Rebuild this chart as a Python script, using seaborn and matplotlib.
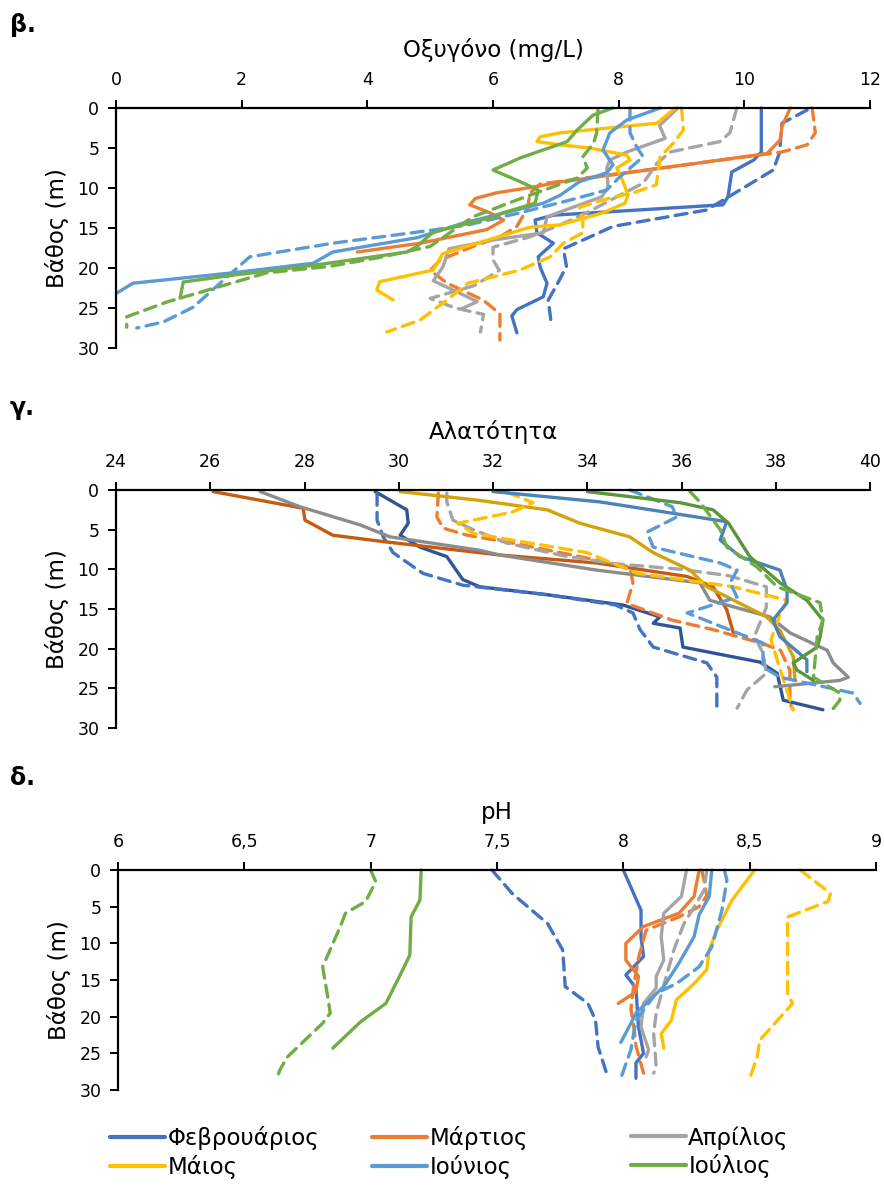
import pandas as pd
import matplotlib.pyplot as plt
import seaborn as sns
from matplotlib.lines import Line2D
from matplotlib.ticker import FuncFormatter

sns.set_style('white')
plt.rcParams['font.family'] = ['DejaVu Sans']
plt.rcParams['text.color'] = 'black'
plt.rcParams['axes.labelcolor'] = 'black'

keys = ['feb', 'mar', 'apr', 'may', 'jun', 'jul']
months = ['Φεβρουάριος', 'Μάρτιος', 'Απρίλιος', 'Μάιος', 'Ιούνιος', 'Ιούλιος']

# (depth m, value); _1 = solid line, _2 = dashed line
# Oxygen (mg/L)
ox_feb_1 = [(0, 10.27), (5.5, 10.27), (6.5, 10.15), (8, 9.8), (11.1, 9.74), (12.1, 9.66), (13.4, 6.96),
            (14, 6.67), (15.6, 6.7), (16.9, 6.96), (18.6, 6.72), (19.9, 6.75), (21.9, 6.86), (23.6, 6.8),
            (25.2, 6.38), (26, 6.3), (28.1, 6.38)]
ox_feb_2 = [(0.25, 11.0), (1.9, 10.6), (5.6, 10.56), (7.75, 10.46), (10.25, 9.93), (12.75, 9.4), (14.8, 7.91),
            (16.3, 7.49), (17.6, 7.12), (19.8, 7.17), (21.9, 7.03), (24, 6.88), (26.5, 6.92)]
ox_mar_1 = [(0, 10.73), (2.3, 10.6), (4, 10.57), (5.7, 10.36), (9.25, 7.07), (9.8, 6.7), (10.6, 6.06),
            (11.3, 5.72), (12.1, 5.63), (13.1, 5.95), (14, 6.17), (15.2, 5.9), (16.9, 4.84), (18, 3.84)]
ox_mar_2 = [(0, 11.08), (3.1, 11.13), (4.6, 11.0), (5.5, 10.6), (9.5, 6.75), (10.6, 6.59), (12.5, 6.55),
            (14.8, 6.38), (16.1, 6.11), (17.3, 5.68), (19, 5.16), (20.3, 5.0), (21.9, 5.27), (24, 5.84),
            (25.7, 6.11), (29, 6.11)]
ox_apr_1 = [(0, 8.94), (2.2, 8.65), (3.8, 8.74), (5.5, 8.13), (6.5, 7.86), (7.5, 7.81), (9.9, 7.83),
            (11.1, 7.73), (13.6, 6.86), (15.6, 6.8), (16.5, 6.0), (17.6, 5.3), (19.9, 5.2), (21.6, 5.05),
            (23, 5.43), (24.2, 5.75), (25.1, 5.5)]
ox_apr_2 = [(0, 9.88), (3.1, 9.77), (4.2, 9.61), (5.5, 8.82), (6.9, 8.61), (9.4, 8.39), (11.1, 7.97),
            (13.1, 7.49), (14.6, 7.07), (16.1, 6.59), (17.4, 6.0), (19, 6.0), (20.3, 6.1), (22.2, 5.7),
            (23.8, 5.0), (25, 5.4), (25.8, 5.85), (28, 5.8)]
ox_may_1 = [(0, 8.9), (1.9, 8.61), (3.1, 7.07), (3.6, 6.75), (4.2, 6.7), (4.6, 7.07), (5, 7.54), (5.9, 8.13),
            (6.5, 8.18), (7.5, 7.97), (9.2, 8.07), (10.9, 8.15), (11.9, 8.1), (13.1, 7.75), (14.6, 7.07),
            (14.9, 6.59), (18.2, 5.2), (20.25, 5.05), (21.7, 4.2), (22.75, 4.15), (24, 4.41)]
ox_may_2 = [(0, 9.0), (2.75, 9.03), (4.4, 8.87), (6.1, 8.66), (9, 8.61), (9.6, 8.6), (10.6, 8.23),
            (11.25, 7.86), (12.4, 7.38), (14, 7.43), (15.6, 7.43), (16.9, 7.12), (18.6, 6.91), (20.25, 6.43),
            (21.9, 5.6), (24, 5.27), (26.5, 4.84), (28, 4.31)]
ox_jun_1 = [(0, 8.66), (1.5, 8.13), (3.1, 7.86), (5.25, 7.75), (7.1, 7.91), (8.1, 7.81), (9.2, 7.38),
            (10.9, 7.07), (11.9, 6.8), (14.4, 5.52), (16.2, 4.8), (18, 3.45), (19.4, 3.14), (20.6, 1.86),
            (21.9, 0.27), (23.1, 0.02)]
ox_jun_2 = [(0, 8.18), (3.1, 8.18), (4.9, 8.29), (6.1, 8.39), (8.6, 8.02), (10.25, 7.81), (11.5, 7.23),
            (13.1, 6.43), (14.6, 5.6), (15.3, 5.0), (16.9, 3.45), (18.6, 2.13), (21.1, 1.77), (24.9, 1.23),
            (26.75, 0.75), (27.5, 0.33)]
ox_jul_1 = [(0, 7.91), (0.9, 7.59), (2.75, 7.34), (4.2, 7.18), (6.25, 6.43), (7.75, 6.0), (9.2, 6.43),
            (10.25, 6.72), (11.9, 6.67), (13.1, 6.16), (13.75, 5.95), (15.5, 5.05), (17.3, 4.79), (18, 4.63),
            (19.6, 3.2), (20.9, 1.86), (21.75, 1.07), (23.75, 1.02)]
ox_jul_2 = [(0.25, 7.67), (3.1, 7.65), (4.4, 7.6), (6.1, 7.43), (7.5, 7.5), (8.75, 7.34), (11.5, 6.38),
            (13.6, 5.68), (17.3, 5.0), (18.6, 4.25), (19.8, 3.4), (20.6, 2.4), (24.25, 0.81), (26.1, 0.17),
            (27.4, 0.17)]

# Salinity
sal_feb_1 = [(0.2, 29.5), (2.5, 30.17), (4.2, 30.2), (5.7, 30.03), (7.2, 30.45), (8.4, 31.02), (11.3, 31.36),
             (12.2, 31.72), (13.2, 33.15), (14.5, 34.76), (16, 35.54), (16.8, 35.4), (17.4, 35.97),
             (19.8, 36.03), (21.7, 37.67), (23.1, 38.03), (26.5, 38.16), (27.7, 39.0)]
sal_feb_2 = [(0.4, 29.54), (3.8, 29.54), (5.9, 29.67), (7.9, 29.88), (10.5, 30.51), (12, 31.36),
             (13.2, 33.15), (14.5, 34.6), (15.5, 34.97), (17.6, 35.12), (19.8, 35.4), (21.8, 36.54),
             (23.6, 36.75), (27.7, 36.75)]
sal_mar_1 = [(0.2, 26.06), (2.3, 27.97), (3.8, 28.01), (5.7, 28.6), (6.5, 29.67), (8.2, 32.15), (9.2, 34.2),
             (10.9, 36.12), (12.2, 36.67), (15.1, 36.96), (18, 37.1)]
sal_mar_2 = [(0.4, 30.84), (3.4, 30.81), (4.8, 30.94), (5.7, 31.45), (6.7, 32.43), (8.4, 33.85), (9.7, 34.9),
             (11.7, 34.97), (14.3, 34.84), (16.4, 35.8), (17.6, 36.67), (18.5, 37.2), (19.3, 37.7),
             (20.2, 38.1), (22.7, 38.3), (26.9, 38.3), (27.7, 38.37)]
sal_apr_1 = [(0.2, 27.06), (2.1, 27.9), (4.4, 29.18), (5.9, 29.81), (7.6, 31.72), (8.2, 32.15), (10.1, 34.2),
             (11.7, 36.39), (13.9, 36.6), (16, 37.88), (18, 38.3), (20.2, 39.09), (21.8, 39.22),
             (23.6, 39.54), (24, 39.36), (24.8, 37.98)]
sal_apr_2 = [(0.4, 31.02), (1.5, 31.02), (3.8, 31.15), (5, 31.58), (6.7, 32.3), (8.3, 33.5), (9.3, 34.6),
             (10, 36.0), (10.8, 37.0), (12.2, 37.8), (14.8, 37.8), (18.4, 37.55), (20.6, 37.73),
             (23.1, 37.8), (25.2, 37.39), (27.5, 37.18)]
sal_may_1 = [(0.2, 30.03), (1.3, 31.7), (2.5, 33.15), (4.2, 33.85), (5.9, 34.9), (7.9, 35.4), (10.1, 36.18),
             (12.2, 36.54), (16, 37.81), (17.7, 38.09), (21, 38.37), (24, 38.41)]
sal_may_2 = [(0.3, 32.3), (1.6, 32.85), (2.8, 32.4), (4.2, 31.25), (5.5, 31.6), (7.9, 34.0), (10.5, 35.06),
             (12.2, 37.1), (13.9, 38.24), (15.5, 38.1), (18.9, 37.9), (21.8, 38.05), (27.7, 38.37)]
sal_jun_1 = [(0.2, 32.0), (1.5, 34.27), (4, 36.96), (6.3, 36.82), (8.4, 37.24), (10.1, 38.09), (12.6, 38.24),
             (14.2, 38.24), (16.4, 37.94), (18.5, 38.09), (21.4, 38.66), (22.9, 38.66)]
sal_jun_2 = [(0, 34.9), (2.1, 35.8), (3.4, 35.9), (5.3, 35.27), (7.2, 35.4), (9.2, 36.82), (10.1, 37.18),
             (11.7, 37.03), (13.5, 37.18), (15.5, 36.12), (16.8, 36.67), (19.3, 37.73), (22.3, 37.73),
             (23.6, 38.09), (25.6, 39.64), (26.9, 39.79)]
sal_jul_1 = [(0.2, 34.0), (1.6, 35.97), (2.5, 36.67), (4.2, 37.0), (8.4, 37.45), (11.7, 38.09), (13.9, 38.66),
             (16.4, 39.0), (18.5, 38.94), (19.8, 38.88), (21.8, 38.37), (22.7, 38.45), (24, 38.8)]
sal_jul_2 = [(0.2, 36.18), (1.5, 36.39), (5, 36.82), (7.2, 36.96), (9.7, 37.6), (12.2, 38.03), (14.2, 38.94),
             (16.4, 39.0), (18.5, 38.88), (23.6, 38.8), (25.6, 39.36), (26.5, 39.36), (27.7, 39.2)]

# pH
ph_feb_1 = [(0, 8.0), (5.5, 8.07), (9.1, 8.07), (11.8, 8.08), (14.3, 8.01), (16.1, 8.05), (21.4, 8.06),
            (25, 8.08), (26.3, 8.05), (28.4, 8.05)]
ph_feb_2 = [(0, 7.48), (3.2, 7.56), (7.3, 7.7), (10.9, 7.76), (15.9, 7.77), (18.2, 7.86), (20.5, 7.89),
            (24.1, 7.9), (28.4, 7.94)]
ph_mar_1 = [(0, 8.3), (3.6, 8.28), (5.9, 8.22), (7.7, 8.08), (10, 8.01), (12.3, 8.01), (14.5, 8.06),
            (16.6, 8.05), (18.2, 7.98)]
ph_mar_2 = [(0, 8.31), (1.5, 8.32), (3.5, 8.33), (5, 8.3), (6.4, 8.22), (8.2, 8.09), (12, 8.06), (16, 8.04),
            (19, 8.03), (21, 8.04), (24, 8.05), (27.7, 8.08)]
ph_apr_1 = [(0, 8.25), (3.6, 8.23), (5.9, 8.16), (9.1, 8.15), (12.3, 8.16), (14.5, 8.13), (16.1, 8.13),
            (18.2, 8.08), (21.4, 8.07), (24.5, 8.1), (25.5, 8.09)]
ph_apr_2 = [(0, 8.33), (2.7, 8.32), (4.5, 8.29), (7.3, 8.24), (10.9, 8.2), (14.5, 8.17), (19.5, 8.13),
            (22.3, 8.12), (26.8, 8.13), (27.7, 8.12)]
ph_may_1 = [(0, 8.52), (4.1, 8.43), (8.2, 8.37), (10.9, 8.34), (13.6, 8.33), (15.5, 8.28), (17.7, 8.21),
            (20.5, 8.19), (22.3, 8.15), (24.3, 8.16)]
ph_may_2 = [(0, 8.7), (3.2, 8.82), (4.3, 8.81), (6.4, 8.65), (10.5, 8.65), (16.8, 8.65), (18.2, 8.67),
            (23.2, 8.54), (25.5, 8.53), (28.4, 8.5)]
ph_jun_1 = [(0, 8.35), (3.6, 8.34), (6.1, 8.3), (9.1, 8.28), (12.7, 8.22), (15.9, 8.16), (19.5, 8.05),
            (20.9, 8.03), (23.5, 7.99)]
ph_jun_2 = [(0, 8.4), (1.4, 8.41), (5.5, 8.39), (10.5, 8.35), (13.2, 8.3), (15.5, 8.21), (16.8, 8.13),
            (20.5, 8.05), (24.5, 8.03), (28.4, 7.99)]
ph_jul_1 = [(0, 7.2), (4.1, 7.195), (6.4, 7.16), (11.6, 7.155), (14.1, 7.12), (18.2, 7.06), (20.7, 6.96),
            (24.3, 6.85)]
ph_jul_2 = [(0, 7.0), (1.6, 7.02), (4.3, 6.98), (5.9, 6.9), (7.7, 6.88), (13.2, 6.81), (17.3, 6.83),
            (19.5, 6.84), (20.9, 6.81), (25.5, 6.67), (27.3, 6.64), (28.4, 6.63)]

base_cols = {'feb': '#4472C4', 'mar': '#ED7D31', 'apr': '#A5A5A5',
             'may': '#FFC000', 'jun': '#5B9BD5', 'jul': '#70AD47'}
# salinity solid lines are drawn in darker shades
dark_cols = {'feb': '#2F5597', 'mar': '#C55A11', 'apr': '#8C8C8C',
             'may': '#D4A20A', 'jun': '#4A83BA', 'jul': '#5A953A'}

oxygen = {'feb': (ox_feb_1, ox_feb_2), 'mar': (ox_mar_1, ox_mar_2), 'apr': (ox_apr_1, ox_apr_2),
          'may': (ox_may_1, ox_may_2), 'jun': (ox_jun_1, ox_jun_2), 'jul': (ox_jul_1, ox_jul_2)}
salinity = {'feb': (sal_feb_1, sal_feb_2), 'mar': (sal_mar_1, sal_mar_2), 'apr': (sal_apr_1, sal_apr_2),
            'may': (sal_may_1, sal_may_2), 'jun': (sal_jun_1, sal_jun_2), 'jul': (sal_jul_1, sal_jul_2)}
ph = {'feb': (ph_feb_1, ph_feb_2), 'mar': (ph_mar_1, ph_mar_2), 'apr': (ph_apr_1, ph_apr_2),
      'may': (ph_may_1, ph_may_2), 'jun': (ph_jun_1, ph_jun_2), 'jul': (ph_jul_1, ph_jul_2)}

W, H = 884, 1189
fig = plt.figure(figsize=(W / 100, H / 100), dpi=100)


def draw(ax, series, solid_cols):
    for k in keys:
        s1, s2 = series[k]
        for pts, col, ls in [(s1, solid_cols[k], '-'), (s2, base_cols[k], (0, (3.6, 2.2)))]:
            d = pd.DataFrame(pts, columns=['depth', 'value'])
            sns.lineplot(data=d, x='value', y='depth', sort=False, estimator=None, ax=ax,
                         color=col, linestyle=ls, linewidth=2.4, clip_on=False,
                         solid_capstyle='round', dash_capstyle='round',
                         solid_joinstyle='round', legend=False)


def style(ax, xlim, xticks, title, comma=False):
    ax.set_xlim(*xlim)
    ax.set_ylim(30, 0)
    ax.set_xticks(xticks)
    ax.set_yticks(range(0, 31, 5))
    ax.xaxis.tick_top()
    ax.xaxis.set_label_position('top')
    ax.set_xlabel(title, fontsize=16.5, labelpad=10)
    ax.set_ylabel('Βάθος (m)', fontsize=16.5, labelpad=6)
    for s in ['bottom', 'right']:
        ax.spines[s].set_visible(False)
    for s in ['top', 'left']:
        ax.spines[s].set_linewidth(1.6)
        ax.spines[s].set_color('black')
    ax.tick_params(axis='both', direction='out', length=6, width=1.4, labelsize=12.5,
                   colors='black', pad=6)
    ax.tick_params(axis='x', top=True, bottom=False, pad=8)
    ax.tick_params(axis='y', left=True)
    if comma:
        ax.xaxis.set_major_formatter(FuncFormatter(lambda v, p: f'{v:g}'.replace('.', ',')))
    ax.set_facecolor('none')


ax1 = fig.add_axes([116 / W, 1 - 348 / H, 754 / W, 240 / H])
draw(ax1, oxygen, base_cols)
style(ax1, (0, 12), range(0, 13, 2), 'Οξυγόνο (mg/L)')

ax2 = fig.add_axes([116 / W, 1 - 728 / H, 754 / W, 238 / H])
draw(ax2, salinity, dark_cols)
style(ax2, (24, 40), range(24, 41, 2), 'Αλατότητα')

ax3 = fig.add_axes([118 / W, 1 - 1090 / H, 758 / W, 220 / H])
draw(ax3, ph, base_cols)
style(ax3, (6, 9), [6, 6.5, 7, 7.5, 8, 8.5, 9], 'pH', comma=True)

for lab, y in [('β.', 25), ('γ.', 408), ('δ.', 778)]:
    fig.text(10 / W, 1 - y / H, lab, fontsize=17, fontweight='bold', va='center', ha='left')

# legend: three columns, two rows
handles = [Line2D([0], [0], color=base_cols[k], lw=3) for k in keys]
for col, x in enumerate([110, 372, 631]):
    idx = [col, col + 3]
    fig.legend([handles[i] for i in idx], [months[i] for i in idx], loc='upper left',
               bbox_to_anchor=(x / W, 1 - 1126 / H), frameon=False, fontsize=16.5,
               handlelength=2.4, handletextpad=0.1, borderpad=0, borderaxespad=0,
               labelspacing=0.2)

fig.savefig('out.png', dpi=100)
